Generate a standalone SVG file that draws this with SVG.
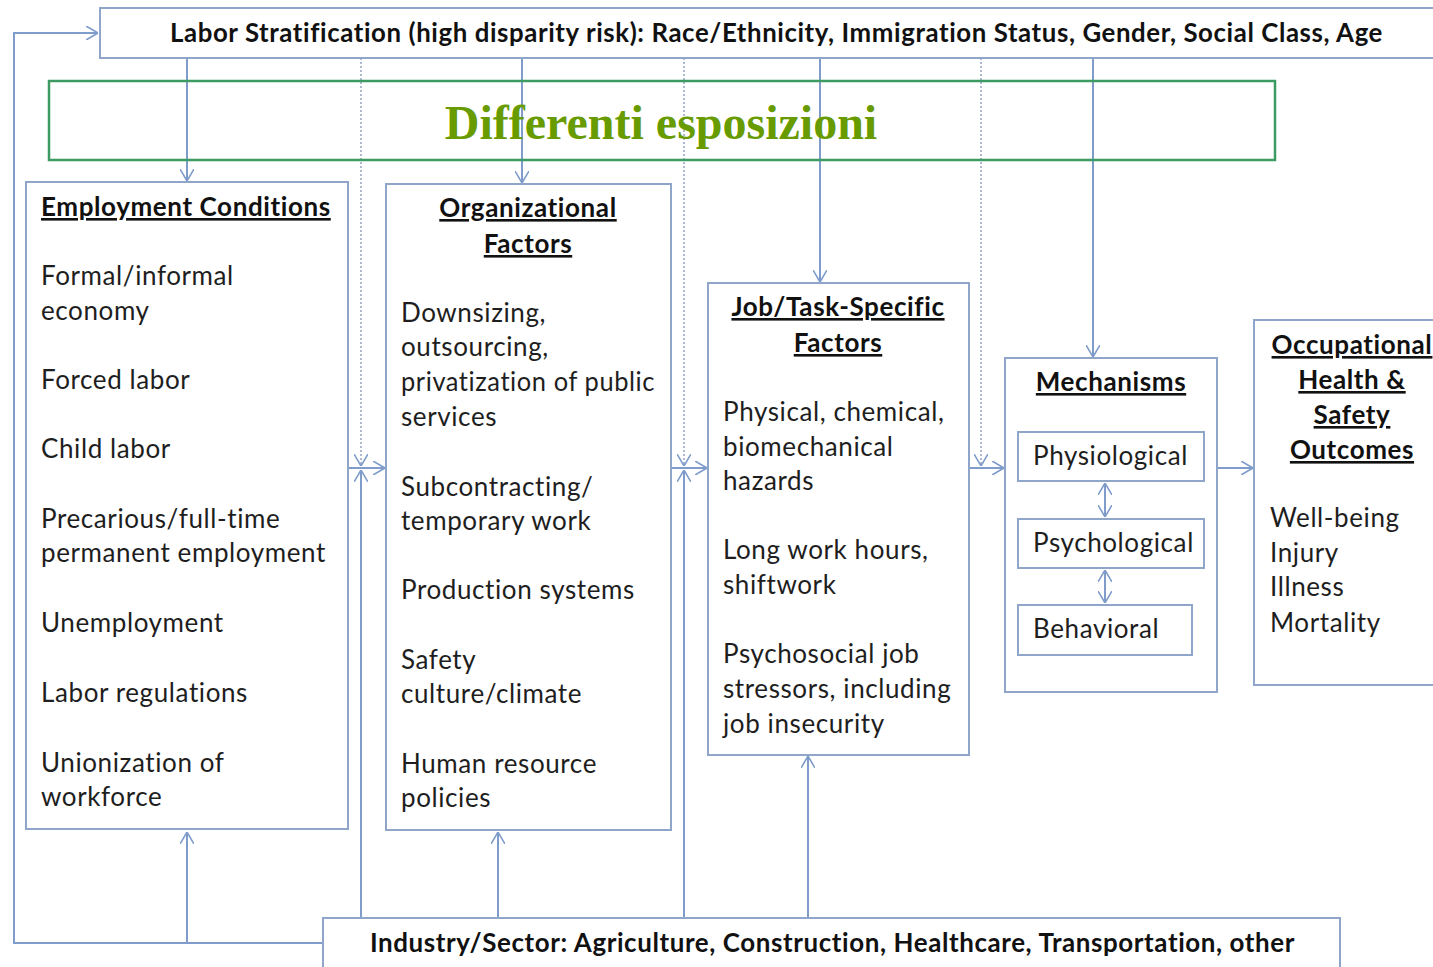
<svg xmlns="http://www.w3.org/2000/svg" width="1433" height="967" viewBox="0 0 1433 967">
<defs>
<marker id="ah" viewBox="0 0 12 14" refX="12" refY="7" markerWidth="12" markerHeight="14" markerUnits="userSpaceOnUse" orient="auto-start-reverse">
<path d="M0,0 L12,7 L0,14" fill="none" stroke="#7f9ccb" stroke-width="1.6"/>
</marker>
</defs>
<style>
.box{fill:#ffffff;stroke:#8fa5c9;stroke-width:2}
.ln{fill:none;stroke:#7f9ccb;stroke-width:2}
.dt{fill:none;stroke:#9aa8c4;stroke-width:1.6;stroke-dasharray:2 2}
.t{font-family:Lato,"Liberation Sans",sans-serif;font-size:26px;letter-spacing:0.6px;fill:#1e1e1e}
.b{font-family:Lato,"Liberation Sans",sans-serif;font-size:26px;letter-spacing:0.6px;font-weight:bold;fill:#111111}
.u{text-decoration:underline}
.c{text-anchor:middle}
</style>
<rect width="1433" height="967" fill="#ffffff"/>

<g id="connectors">
<path class="ln" d="M323,943 H14 V33 H98" marker-end="url(#ah)"/>
<path class="ln" d="M187,943 V832" marker-end="url(#ah)"/>
<path class="ln" d="M187,58 V181" marker-end="url(#ah)"/>
<path class="ln" d="M522,58 V183" marker-end="url(#ah)"/>
<path class="ln" d="M820,58 V282" marker-end="url(#ah)"/>
<path class="ln" d="M1093,58 V357" marker-end="url(#ah)"/>
<path class="dt" d="M361,58 V466" marker-end="url(#ah)"/>
<path class="ln" d="M361,918 V470" marker-end="url(#ah)"/>
<path class="ln" d="M348,468 H385" marker-end="url(#ah)"/>
<path class="dt" d="M684,58 V466" marker-end="url(#ah)"/>
<path class="ln" d="M684,918 V470" marker-end="url(#ah)"/>
<path class="ln" d="M671,468 H707" marker-end="url(#ah)"/>
<path class="dt" d="M981,58 V466" marker-end="url(#ah)"/>
<path class="ln" d="M969,468 H1004" marker-end="url(#ah)"/>
<path class="ln" d="M1217,468 H1253" marker-end="url(#ah)"/>
<path class="ln" d="M498,918 V832" marker-end="url(#ah)"/>
<path class="ln" d="M808,918 V756" marker-end="url(#ah)"/>
<path class="ln" d="M1105,483 V517" marker-start="url(#ah)" marker-end="url(#ah)"/>
<path class="ln" d="M1105,570 V603" marker-start="url(#ah)" marker-end="url(#ah)"/>
</g>

<g id="top">
<rect class="box" x="100" y="8" width="1345" height="50"/>
<text class="b" x="170" y="42" font-size="25" textLength="1213" lengthAdjust="spacingAndGlyphs">Labor Stratification (high disparity risk): Race/Ethnicity, Immigration Status, Gender, Social Class, Age</text>
</g>

<g id="bottom">
<rect class="box" x="323" y="918" width="1017" height="60"/>
<text class="b" x="370" y="952" font-size="25" textLength="925" lengthAdjust="spacingAndGlyphs">Industry/Sector: Agriculture, Construction, Healthcare, Transportation, other</text>
</g>

<g id="employment">
<rect class="box" x="26" y="182" width="322" height="647" style="fill:none"/>
<text class="b u" x="41" y="216">Employment Conditions</text>
<text class="t" x="41" y="285">Formal/informal</text>
<text class="t" x="41" y="320">economy</text>
<text class="t" x="41" y="389">Forced labor</text>
<text class="t" x="41" y="458">Child labor</text>
<text class="t" x="41" y="528">Precarious/full-time</text>
<text class="t" x="41" y="562">permanent employment</text>
<text class="t" x="41" y="632">Unemployment</text>
<text class="t" x="41" y="702">Labor regulations</text>
<text class="t" x="41" y="772">Unionization of</text>
<text class="t" x="41" y="806">workforce</text>
</g>

<g id="organizational">
<rect class="box" x="386" y="184" width="285" height="646" style="fill:none"/>
<text class="b u c" x="528" y="217">Organizational</text>
<text class="b u c" x="528" y="253">Factors</text>
<text class="t" x="401" y="322">Downsizing,</text>
<text class="t" x="401" y="356">outsourcing,</text>
<text class="t" x="401" y="391" textLength="254" lengthAdjust="spacingAndGlyphs">privatization of public</text>
<text class="t" x="401" y="426">services</text>
<text class="t" x="401" y="496">Subcontracting/</text>
<text class="t" x="401" y="530">temporary work</text>
<text class="t" x="401" y="599">Production systems</text>
<text class="t" x="401" y="669">Safety</text>
<text class="t" x="401" y="703">culture/climate</text>
<text class="t" x="401" y="773">Human resource</text>
<text class="t" x="401" y="807">policies</text>
</g>

<g id="job">
<rect class="box" x="708" y="283" width="261" height="472" style="fill:none"/>
<text class="b u c" x="838" y="316">Job/Task-Specific</text>
<text class="b u c" x="838" y="352">Factors</text>
<text class="t" x="723" y="421">Physical, chemical,</text>
<text class="t" x="723" y="456">biomechanical</text>
<text class="t" x="723" y="490">hazards</text>
<text class="t" x="723" y="559">Long work hours,</text>
<text class="t" x="723" y="594">shiftwork</text>
<text class="t" x="723" y="663">Psychosocial job</text>
<text class="t" x="723" y="698">stressors, including</text>
<text class="t" x="723" y="733">job insecurity</text>
</g>

<g id="mechanisms">
<rect class="box" x="1005" y="358" width="212" height="334" style="fill:none"/>
<text class="b u c" x="1111" y="391">Mechanisms</text>
<g id="physiological">
<rect class="box" x="1018" y="432" width="186" height="49"/>
<text class="t" x="1033" y="465">Physiological</text>
</g>
<g id="psychological">
<rect class="box" x="1018" y="519" width="186" height="49"/>
<text class="t" x="1033" y="552">Psychological</text>
</g>
<g id="behavioral">
<rect class="box" x="1018" y="605" width="174" height="50"/>
<text class="t" x="1033" y="638">Behavioral</text>
</g>
</g>

<g id="outcomes">
<rect class="box" x="1254" y="320" width="190" height="365" style="fill:none"/>
<text class="b u c" x="1352" y="354">Occupational</text>
<text class="b u c" x="1352" y="389">Health &amp;</text>
<text class="b u c" x="1352" y="424">Safety</text>
<text class="b u c" x="1352" y="459">Outcomes</text>
<text class="t" x="1270" y="527">Well-being</text>
<text class="t" x="1270" y="562">Injury</text>
<text class="t" x="1270" y="596">Illness</text>
<text class="t" x="1270" y="632">Mortality</text>
</g>

<g id="highlight">
<rect x="49" y="81" width="1226" height="79" fill="none" stroke="#3c9a62" stroke-width="2.5"/>
<text x="661" y="139" text-anchor="middle" font-family="'Liberation Serif',serif" font-weight="bold" font-size="48" fill="#679b00">Differenti esposizioni</text>
</g>
</svg>
